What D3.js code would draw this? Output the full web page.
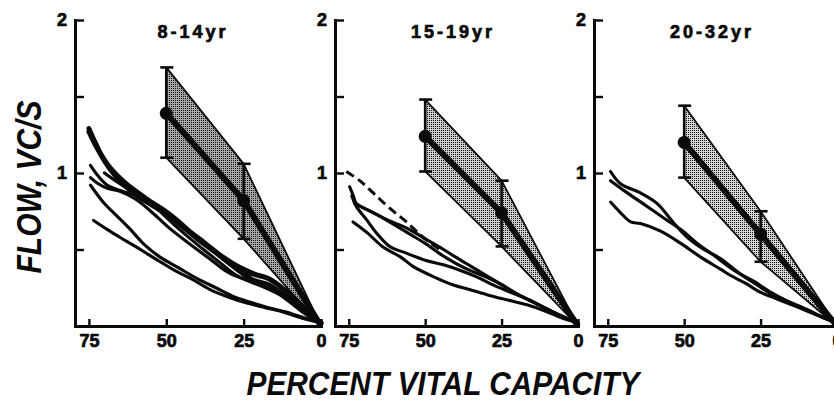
<!DOCTYPE html>
<html>
<head>
<meta charset="utf-8">
<script src="https://cdn.jsdelivr.net/npm/d3@7"></script>
<style>
  body { margin: 0; background: #fff; }
</style>
</head>
<body>
<div id="chart"></div>
<script>
// values: x = percent vital capacity, y = flow (VC/s)
var panelTitles = ["8-14yr", "15-19yr", "20-32yr"];
var xTickValues = [75, 50, 25, 0];
var yTickValues = [0.5, 1, 1.5, 2];
var yTickLabels = [1, 2];
var bandPercent = [50, 25, 0];

var mean814 = [1.39, 0.82, 0];
var upper814 = [1.69, 1.06, 0];
var lower814 = [1.10, 0.57, 0];

var mean1519 = [1.24, 0.74, 0];
var upper1519 = [1.48, 0.95, 0];
var lower1519 = [1.01, 0.52, 0];

var mean2032 = [1.20, 0.60, 0];
var upper2032 = [1.44, 0.75, 0];
var lower2032 = [0.97, 0.42, 0];

// individual subject curves, [percent VC, flow]
var curves814 = [
  [[75,1.29],[73,1.2],[70,1.08],[66,0.97],[60,0.86],[53,0.77],[46,0.67],[40,0.57],[34,0.48],[28,0.39],[22,0.34],[17,0.31],[12,0.24],[7,0.15],[3,0.07],[0,0.02]],
  [[75,1.27],[72,1.15],[68,1.03],[63,0.93],[57,0.84],[50,0.74],[44,0.64],[38,0.55],[32,0.45],[27,0.37],[22,0.3],[17,0.27],[12,0.2],[6,0.1],[0,0.02]],
  [[74.5,1.05],[72,0.98],[69,0.92],[64,0.88],[58,0.84],[52,0.78],[46,0.69],[40,0.58],[34,0.49],[28,0.41],[22,0.35],[16,0.3],[11,0.21],[5,0.09],[0,0.02]],
  [[74.5,0.97],[72,0.93],[69,0.9],[65,0.88],[60,0.83],[55,0.75],[49,0.64],[42,0.53],[36,0.44],[30,0.35],[24,0.3],[18,0.27],[11,0.17],[5,0.08],[0,0.02]],
  [[70,1.0],[65,0.93],[60,0.87],[55,0.81],[50,0.71],[44,0.6],[38,0.5],[33,0.42],[28,0.34],[23,0.29],[18,0.25],[12,0.19],[6,0.1],[0,0.02]],
  [[74.5,0.92],[70,0.8],[67,0.74],[62,0.64],[57,0.53],[52,0.45],[46,0.38],[40,0.31],[34,0.25],[28,0.19],[22,0.15],[17,0.12],[11,0.09],[5,0.05],[0,0.02]],
  [[73.5,0.69],[69,0.63],[65,0.58],[60,0.52],[56,0.47],[52,0.42],[47,0.36],[42,0.31],[36,0.24],[30,0.19],[24,0.15],[18,0.12],[12,0.09],[6,0.05],[0,0.02]]
];

var curves1519 = [
  [[74.7,0.91],[73.5,0.85],[72.5,0.8],[69,0.76],[65,0.72],[60,0.66],[55,0.6],[50,0.54],[45,0.47],[40,0.41],[35,0.36],[30,0.32],[25,0.27],[20,0.21],[15,0.16],[10,0.11],[5,0.06],[0,0.02]],
  [[73,0.8],[70,0.77],[66,0.73],[62,0.69],[56,0.64],[50,0.57],[44,0.5],[40,0.45],[35,0.39],[30,0.33],[25,0.27],[20,0.21],[14,0.15],[8,0.09],[0,0.02]],
  [[74,0.85],[72.5,0.78],[69,0.69],[66,0.61],[61.6,0.52],[56,0.475],[50,0.43],[44,0.4],[38,0.36],[33,0.32],[28,0.27],[22,0.22],[16,0.17],[10,0.11],[5,0.06],[0,0.02]],
  [[73.6,0.68],[69,0.61],[64,0.52],[58,0.45],[54,0.39],[47,0.32],[41,0.27],[35,0.235],[29,0.2],[23,0.17],[17,0.14],[11,0.1],[5,0.05],[0,0.02]]
];
var dashed1519 = [[75.8,1.01],[71.4,0.95],[67,0.87],[61.6,0.77],[56.1,0.68],[50.7,0.58],[45.2,0.5]];

var curves2032 = [
  [[74.1,1.01],[70.8,0.93],[64.3,0.87],[58.8,0.8],[53.3,0.67],[49,0.58],[43.5,0.5],[38,0.44],[34.8,0.39],[31.5,0.34],[27,0.29],[21.6,0.22],[16,0.16],[9.6,0.1],[4,0.05],[0,0.02]],
  [[74.1,0.95],[68.6,0.87],[62,0.78],[55.5,0.69],[51.1,0.63],[45.7,0.54],[40.2,0.46],[34.8,0.38],[31,0.33],[27,0.28],[21.6,0.21],[16,0.16],[10,0.11],[4,0.05],[0,0.02]],
  [[74.1,0.81],[70.8,0.74],[67.5,0.68],[64.3,0.67],[57.7,0.62],[51.1,0.54],[44.6,0.45],[38,0.37],[34.8,0.33],[30,0.28],[25,0.22],[20,0.18],[15,0.14],[10,0.1],[5,0.06],[0,0.02]]
];

// panel setup built from the arrays above
var panels = [
  {title: panelTitles[0], mean: mean814, upper: upper814, lower: lower814, curves: curves814, heavy: 2, dashed: null, shade: "#a8a8a8"},
  {title: panelTitles[1], mean: mean1519, upper: upper1519, lower: lower1519, curves: curves1519, heavy: 0, dashed: dashed1519, shade: "#cccccc"},
  {title: panelTitles[2], mean: mean2032, upper: upper2032, lower: lower2032, curves: curves2032, heavy: 0, dashed: null, shade: "#d6d6d6"}
];

var width = 834, height = 400;
var plotTop = 20, plotBottom = 326;
var panelLeft = [75, 335, 594], panelWidth = [246, 243, 243];
var fontFam = "'Liberation Sans', Arial, sans-serif";
var ink = "#0a0a0a";

var svg = d3.select("#chart").append("svg")
    .attr("width", width)
    .attr("height", height);

// stipple fills for the shaded bands
var defs = svg.append("defs");
panels.forEach(function(p, i) {
  var pat = defs.append("pattern")
      .attr("id", "stipple" + i)
      .attr("width", 2).attr("height", 2)
      .attr("patternUnits", "userSpaceOnUse");
  pat.append("rect").attr("width", 2).attr("height", 2).attr("fill", p.shade);
  pat.append("rect").attr("width", 1).attr("height", 1).attr("fill", "#111");
});

var y = d3.scaleLinear().domain([0, 2]).range([plotBottom, plotTop]);

panels.forEach(function(p, i) {
  var x = d3.scaleLinear().domain([79.5, 0]).range([0, panelWidth[i]]);

  var curveLine = d3.line()
      .x(function(d) { return x(d[0]); })
      .y(function(d) { return y(d[1]); })
      .curve(d3.curveCatmullRom.alpha(0.5));

  var g = svg.append("g")
      .attr("transform", "translate(" + panelLeft[i] + ",0)");

  var band = bandPercent.map(function(pc, k) {
    return {p: pc, m: p.mean[k], hi: p.upper[k], lo: p.lower[k]};
  });

  // shaded mean +/- SD band
  g.append("path")
      .datum(band)
      .attr("d", d3.area()
          .x(function(d) { return x(d.p); })
          .y0(function(d) { return y(d.lo); })
          .y1(function(d) { return y(d.hi); }))
      .attr("fill", "url(#stipple" + i + ")")
      .attr("stroke", ink)
      .attr("stroke-width", 1.8)
      .attr("stroke-linejoin", "round");

  // subject curves
  g.selectAll(".subject")
      .data(p.curves)
      .enter().append("path")
      .attr("class", "subject")
      .attr("d", curveLine)
      .attr("fill", "none")
      .attr("stroke", ink)
      .attr("stroke-linecap", "round")
      .attr("stroke-width", function(d, k) { return k < p.heavy ? 5 : 3.1; });

  if (p.dashed) {
    g.append("path")
        .datum(p.dashed)
        .attr("d", curveLine)
        .attr("fill", "none")
        .attr("stroke", ink)
        .attr("stroke-width", 3)
        .attr("stroke-dasharray", "9,5");
  }

  // mean line
  g.append("path")
      .datum(band)
      .attr("d", d3.line()
          .x(function(d) { return x(d.p); })
          .y(function(d) { return y(d.m); }))
      .attr("fill", "none")
      .attr("stroke", ink)
      .attr("stroke-width", 6)
      .attr("stroke-linejoin", "round");

  // error bars and dots at 50 and 25
  var bars = band.filter(function(d) { return d.p > 0; });
  var eb = g.selectAll(".ebar").data(bars).enter().append("g").attr("class", "ebar");
  eb.append("line")
      .attr("x1", function(d) { return x(d.p); })
      .attr("x2", function(d) { return x(d.p); })
      .attr("y1", function(d) { return y(d.lo); })
      .attr("y2", function(d) { return y(d.hi); })
      .attr("stroke", ink).attr("stroke-width", 2.6);
  ["hi", "lo"].forEach(function(key) {
    eb.append("line")
        .attr("x1", function(d) { return x(d.p) - 6; })
        .attr("x2", function(d) { return x(d.p) + 7; })
        .attr("y1", function(d) { return y(d[key]); })
        .attr("y2", function(d) { return y(d[key]); })
        .attr("stroke", ink).attr("stroke-width", 2.6);
  });
  eb.append("circle")
      .attr("cx", function(d) { return x(d.p); })
      .attr("cy", function(d) { return y(d.m); })
      .attr("r", 6.5)
      .attr("fill", ink);

  // axes, ticks pointing inward
  var xAxis = g.append("g")
      .attr("transform", "translate(0," + plotBottom + ")")
      .call(d3.axisBottom(x).tickValues(xTickValues).tickSize(-7).tickSizeOuter(0).tickPadding(8));
  var yAxis = g.append("g")
      .call(d3.axisLeft(y).tickValues(yTickValues).tickSize(-9).tickSizeOuter(0).tickPadding(8)
          .tickFormat(function(d) { return yTickLabels.indexOf(d) >= 0 ? d : ""; }));

  [xAxis, yAxis].forEach(function(ax) {
    ax.select(".domain").attr("stroke", ink).attr("stroke-width", 3).attr("stroke-linecap", "square");
    ax.selectAll(".tick line").attr("stroke", ink).attr("stroke-width", 2.4);
    ax.selectAll("text")
        .attr("fill", ink)
        .attr("stroke", ink)
        .attr("stroke-width", 0.7)
        .style("font-family", fontFam)
        .style("font-weight", "bold")
        .style("font-size", "18px");
  });

  // panel title
  g.append("text")
      .attr("x", 118)
      .attr("y", 38)
      .attr("text-anchor", "middle")
      .style("font-family", fontFam)
      .style("font-weight", "bold")
      .style("font-size", "18px")
      .style("letter-spacing", "3px")
      .attr("fill", ink)
      .attr("stroke", ink)
      .attr("stroke-width", 0.7)
      .text(p.title);
});

// axis titles
svg.append("text")
    .attr("transform", "translate(41,187) rotate(-90)")
    .attr("text-anchor", "middle")
    .attr("textLength", 173)
    .attr("lengthAdjust", "spacingAndGlyphs")
    .style("font-family", fontFam)
    .style("font-style", "italic")
    .style("font-weight", "bold")
    .style("font-size", "35px")
    .attr("fill", ink)
    .text("FLOW, VC/S");

svg.append("text")
    .attr("x", 443)
    .attr("y", 395)
    .attr("text-anchor", "middle")
    .attr("textLength", 393)
    .attr("lengthAdjust", "spacingAndGlyphs")
    .style("font-family", fontFam)
    .style("font-style", "italic")
    .style("font-weight", "bold")
    .style("font-size", "34px")
    .attr("fill", ink)
    .text("PERCENT VITAL CAPACITY");
</script>
</body>
</html>
